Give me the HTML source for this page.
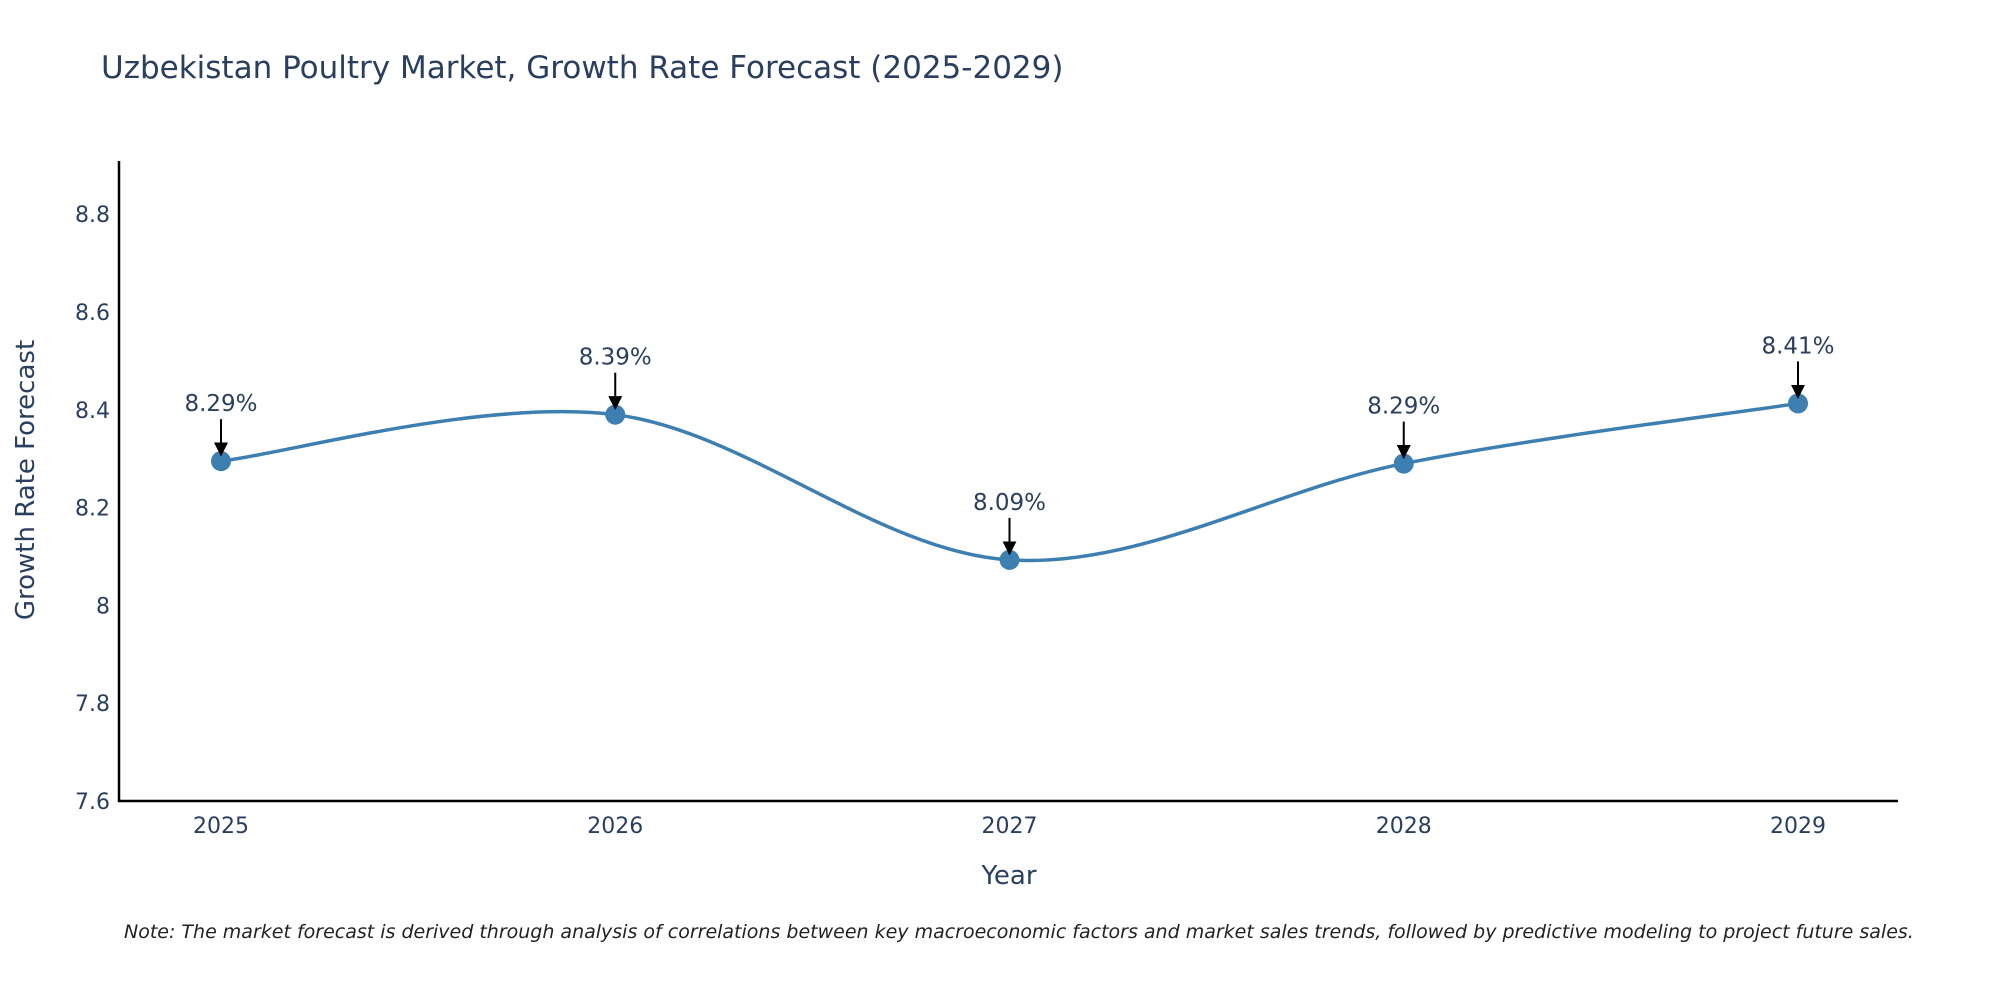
<!DOCTYPE html>
<html><head><meta charset="utf-8"><style>
html,body{margin:0;padding:0;background:#fff;overflow:hidden;}
svg text{font-family:"DejaVu Sans","Liberation Sans",sans-serif;}
</style></head><body>
<svg id="chart" width="2000" height="1000" viewBox="0 0 2000 1000" xmlns="http://www.w3.org/2000/svg">
<defs><marker id="ah" viewBox="0 0 10 10" refX="9" refY="5" markerWidth="7" markerHeight="7" orient="auto"><path d="M0,0 L10,5 L0,10 z" fill="#000"/></marker></defs>
<text x="101" y="78" font-size="31" fill="#2a3f5f">Uzbekistan Poultry Market, Growth Rate Forecast (2025-2029)</text>
<g id="yticks"></g>
<g id="xticks"></g>
<line x1="119" y1="161" x2="119" y2="802" stroke="#000" stroke-width="2.5"/>
<line x1="118" y1="801" x2="1898" y2="801" stroke="#000" stroke-width="2.5"/>
<path id="line" fill="none" stroke="#3d7fb0" stroke-width="3.5"/>
<g id="marks"></g>
<text transform="translate(34,480) rotate(-90)" text-anchor="middle" font-size="26" fill="#2a3f5f">Growth Rate Forecast</text>
<text x="1009" y="884" text-anchor="middle" font-size="26" fill="#2a3f5f">Year</text>
<text x="124" y="938" font-size="19" font-style="italic" fill="#222">Note: The market forecast is derived through analysis of correlations between key macroeconomic factors and market sales trends, followed by predictive modeling to project future sales.</text>
</svg>
<script>
const years=[2025,2026,2027,2028,2029];
const values=[8.295,8.39,8.093,8.29,8.413];
const labels=["8.29%","8.39%","8.09%","8.29%","8.41%"];
const yTicks=[7.6,7.8,8,8.2,8.4,8.6,8.8];
const yTickLabels=["7.6","7.8","8","8.2","8.4","8.6","8.8"];
const NS="http://www.w3.org/2000/svg";
function X(yr){return 221+(yr-2025)*394.25;}
function Y(v){return 801-(v-7.6)/0.2*97.8;}
function mk(t,a,parent){const e=document.createElementNS(NS,t);for(const k in a)e.setAttribute(k,a[k]);parent.appendChild(e);return e;}
const yg=document.getElementById('yticks'),xg=document.getElementById('xticks'),mg=document.getElementById('marks');
yTicks.forEach((v,i)=>{const t=mk('text',{x:110,y:Y(v)+8,'text-anchor':'end','font-size':22,fill:'#2a3f5f'},yg);t.textContent=yTickLabels[i];

});
years.forEach(yr=>{const t=mk('text',{x:X(yr),y:833,'text-anchor':'middle','font-size':22,fill:'#2a3f5f'},xg);t.textContent=String(yr);

});
const P=years.map((yr,i)=>[X(yr),Y(values[i])]);
let d='M'+P[0][0]+','+P[0][1];
for(let i=0;i<P.length-1;i++){const p0=P[i-1]||P[i],p1=P[i],p2=P[i+1],p3=P[i+2]||P[i+1];
const c1=[p1[0]+(p2[0]-p0[0])/6,p1[1]+(p2[1]-p0[1])/6],c2=[p2[0]-(p3[0]-p1[0])/6,p2[1]-(p3[1]-p1[1])/6];
d+=' C'+c1+' '+c2+' '+p2;}
document.getElementById('line').setAttribute('d',d);
P.forEach((p,i)=>{const c=mk('circle',{cx:p[0],cy:p[1],r:10,fill:'#3d7fb0'},mg);


const l=mk('line',{x1:p[0],y1:p[1]-42,x2:p[0],y2:p[1]-6,stroke:'#000','stroke-width':2,'marker-end':'url(#ah)'},mg);


const t=mk('text',{x:p[0],y:p[1]-50,'text-anchor':'middle','font-size':23,fill:'#2a3f5f'},mg);t.textContent=labels[i];

});
</script>
</body></html>
